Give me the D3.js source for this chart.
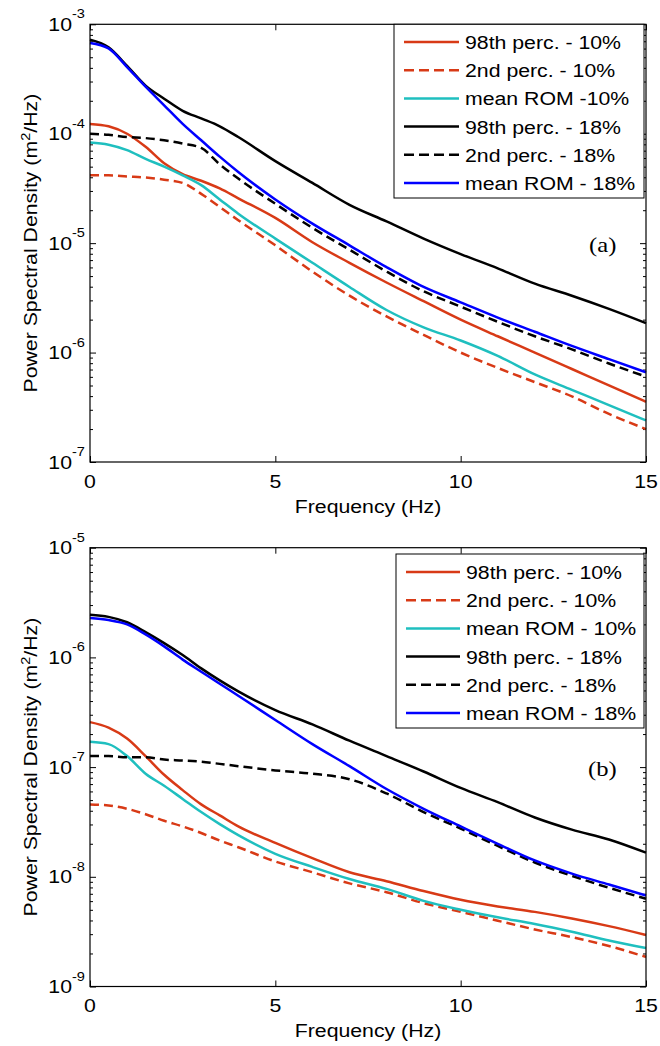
<!DOCTYPE html>
<html>
<head>
<meta charset="utf-8">
<script src="https://cdn.jsdelivr.net/npm/d3@7"></script>
<style>
  body { margin: 0; background: #fff; }
</style>
</head>
<body>
<svg id="fig" width="660" height="1046"></svg>
<script>
// frequency grid (Hz)
var freq = [0, 0.5, 1, 1.5, 2, 2.5, 3, 3.5, 4, 5, 6, 7, 8, 9, 10, 11, 12, 13, 14, 15];
var xTicks = [0, 5, 10, 15];

// panel (a)
var a98_10 = [1.23e-4, 1.17e-4, 1.00e-4, 7.59e-5, 5.37e-5, 4.27e-5, 3.72e-5, 3.16e-5, 2.57e-5, 1.70e-5,
              1.02e-5, 6.61e-6, 4.37e-6, 2.95e-6, 2.00e-6, 1.41e-6, 1.00e-6, 7.08e-7, 5.01e-7, 3.55e-7];
var a02_10 = [4.17e-5, 4.17e-5, 4.07e-5, 3.98e-5, 3.80e-5, 3.55e-5, 2.82e-5, 2.14e-5, 1.62e-5, 9.55e-6,
              5.50e-6, 3.31e-6, 2.14e-6, 1.45e-6, 1.00e-6, 7.24e-7, 5.37e-7, 3.98e-7, 2.75e-7, 2.00e-7];
var aMean_10 = [8.32e-5, 7.94e-5, 7.08e-5, 5.89e-5, 5.01e-5, 4.17e-5, 3.39e-5, 2.51e-5, 1.86e-5, 1.10e-5,
                6.61e-6, 3.98e-6, 2.45e-6, 1.70e-6, 1.29e-6, 9.33e-7, 6.31e-7, 4.57e-7, 3.31e-7, 2.40e-7];
var a98_18 = [7.24e-4, 6.17e-4, 4.17e-4, 2.75e-4, 2.09e-4, 1.62e-4, 1.38e-4, 1.17e-4, 9.33e-5, 5.62e-5,
              3.55e-5, 2.24e-5, 1.58e-5, 1.10e-5, 7.94e-6, 5.89e-6, 4.27e-6, 3.31e-6, 2.51e-6, 1.86e-6];
var a02_18 = [1.00e-4, 9.77e-5, 9.33e-5, 9.12e-5, 8.71e-5, 8.13e-5, 7.41e-5, 5.25e-5, 3.89e-5, 2.29e-5,
              1.38e-5, 8.71e-6, 5.50e-6, 3.63e-6, 2.63e-6, 1.91e-6, 1.41e-6, 1.07e-6, 7.94e-7, 6.03e-7];
var aMean_18 = [6.76e-4, 6.03e-4, 4.07e-4, 2.69e-4, 1.82e-4, 1.23e-4, 8.71e-5, 6.17e-5, 4.47e-5, 2.51e-5,
                1.51e-5, 9.55e-6, 6.03e-6, 3.98e-6, 2.88e-6, 2.09e-6, 1.55e-6, 1.15e-6, 8.71e-7, 6.61e-7];

// panel (b)
var b98_10 = [2.57e-7, 2.29e-7, 1.82e-7, 1.26e-7, 8.51e-8, 6.17e-8, 4.57e-8, 3.63e-8, 2.88e-8, 2.04e-8,
              1.48e-8, 1.10e-8, 9.12e-9, 7.41e-9, 6.17e-9, 5.37e-9, 4.79e-9, 4.17e-9, 3.55e-9, 2.95e-9];
var b02_10 = [4.57e-8, 4.47e-8, 4.17e-8, 3.72e-8, 3.24e-8, 2.88e-8, 2.51e-8, 2.14e-8, 1.86e-8, 1.38e-8,
              1.10e-8, 8.71e-9, 7.24e-9, 5.75e-9, 4.79e-9, 3.98e-9, 3.31e-9, 2.82e-9, 2.34e-9, 1.86e-9];
var bMean_10 = [1.70e-7, 1.62e-7, 1.26e-7, 8.71e-8, 6.76e-8, 5.13e-8, 3.89e-8, 3.02e-8, 2.40e-8, 1.62e-8,
                1.23e-8, 9.55e-9, 7.76e-9, 6.03e-9, 5.01e-9, 4.27e-9, 3.72e-9, 3.16e-9, 2.63e-9, 2.24e-9];
var b98_18 = [2.45e-6, 2.34e-6, 2.09e-6, 1.70e-6, 1.35e-6, 1.05e-6, 7.94e-7, 6.17e-7, 4.90e-7, 3.31e-7,
              2.45e-7, 1.74e-7, 1.26e-7, 9.12e-8, 6.46e-8, 4.79e-8, 3.47e-8, 2.69e-8, 2.19e-8, 1.66e-8];
var b02_18 = [1.26e-7, 1.26e-7, 1.23e-7, 1.23e-7, 1.17e-7, 1.15e-7, 1.12e-7, 1.07e-7, 1.02e-7, 9.33e-8,
              8.71e-8, 7.76e-8, 5.75e-8, 3.89e-8, 2.75e-8, 1.91e-8, 1.35e-8, 1.02e-8, 7.94e-9, 6.31e-9];
var bMean_18 = [2.29e-6, 2.19e-6, 2.00e-6, 1.62e-6, 1.26e-6, 9.55e-7, 7.41e-7, 5.75e-7, 4.47e-7, 2.69e-7,
                1.62e-7, 1.02e-7, 6.31e-8, 4.17e-8, 2.88e-8, 2.00e-8, 1.41e-8, 1.07e-8, 8.51e-9, 6.76e-9];

var legendA = ["98th perc. - 10%", "2nd perc. - 10%", "mean ROM -10%",
               "98th perc. - 18%", "2nd perc. - 18%", "mean ROM - 18%"];
var legendB = ["98th perc. - 10%", "2nd perc. - 10%", "mean ROM - 10%",
               "98th perc. - 18%", "2nd perc. - 18%", "mean ROM - 18%"];

// styles per series (same order in both panels)
var RED = "#d83a16", CYAN = "#1fbfbf", BLUE = "#0000ff", BLACK = "#000";
var styles = [
  {color: RED, dash: null},
  {color: RED, dash: "9,5"},
  {color: CYAN, dash: null},
  {color: BLACK, dash: null},
  {color: BLACK, dash: "9,5"},
  {color: BLUE, dash: null}
];

var SANS = "'Liberation Sans', Arial, Helvetica, sans-serif";
var SERIF = "'Liberation Serif', 'Times New Roman', serif";
var SX = 1.12; // the original lettering is a bit wider than Arial

var svg = d3.select("#fig");
var left = 90, right = 646;

var panels = [
  {top: 24.3, bottom: 462, domain: [1e-7, 1e-3],
   series: [a98_10, a02_10, aMean_10, a98_18, a02_18, aMean_18], names: legendA,
   box: [394, 24.3, 644, 198], row0: 42, lineX: [404, 459], textX: 465,
   tag: "(a)", tagX: 589, tagY: 252},
  {top: 547.7, bottom: 986.5, domain: [1e-9, 1e-5],
   series: [b98_10, b02_10, bMean_10, b98_18, b02_18, bMean_18], names: legendB,
   box: [396, 554, 644, 728], row0: 572, lineX: [406, 460], textX: 466,
   tag: "(b)", tagX: 588, tagY: 776}
];

function txt(g, x, y, s, size, anchor, family) {
  return g.append("text")
    .attr("transform", "translate(" + x + "," + y + ") scale(" + SX + ",1)")
    .attr("text-anchor", anchor || "start")
    .attr("font-size", size)
    .attr("font-family", family || SANS)
    .attr("fill", "#000")
    .text(s);
}

function tickAxis(g, axis, vals, size) {
  g.call(axis.tickValues(vals).tickSize(size).tickSizeOuter(0).tickFormat(""));
  g.select(".domain").remove();
  g.selectAll("line").attr("stroke", "#000").attr("stroke-width", 1);
}

panels.forEach(function(p) {
  var x = d3.scaleLinear().domain([0, 15]).range([left, right]);
  var y = d3.scaleLog().domain(p.domain).range([p.bottom, p.top]);
  var g = svg.append("g");

  var all = y.ticks();
  var isDecade = function(v) { var l = Math.log10(v); return Math.abs(l - Math.round(l)) < 1e-6; };
  var major = all.filter(isDecade);
  var minor = all.filter(function(v) { return !isDecade(v); });

  // ticks pointing inward on all four sides
  tickAxis(g.append("g").attr("transform", "translate(" + left + ",0)"), d3.axisLeft(y), minor, -3);
  tickAxis(g.append("g").attr("transform", "translate(" + left + ",0)"), d3.axisLeft(y), major, -6);
  tickAxis(g.append("g").attr("transform", "translate(" + right + ",0)"), d3.axisRight(y), minor, -3);
  tickAxis(g.append("g").attr("transform", "translate(" + right + ",0)"), d3.axisRight(y), major, -6);
  tickAxis(g.append("g").attr("transform", "translate(0," + p.bottom + ")"), d3.axisBottom(x), xTicks, -6);
  tickAxis(g.append("g").attr("transform", "translate(0," + p.top + ")"), d3.axisTop(x), xTicks, -6);

  // curves
  var line = d3.line()
    .x(function(d, i) { return x(freq[i]); })
    .y(function(d) { return y(d); })
    .curve(d3.curveMonotoneX);

  p.series.forEach(function(s, i) {
    g.append("path")
      .datum(s)
      .attr("d", line)
      .attr("fill", "none")
      .attr("stroke", styles[i].color)
      .attr("stroke-width", 2.5)
      .attr("stroke-dasharray", styles[i].dash);
  });

  // frame
  g.append("rect")
    .attr("x", left).attr("y", p.top)
    .attr("width", right - left).attr("height", p.bottom - p.top)
    .attr("fill", "none").attr("stroke", "#000").attr("stroke-width", 1.2);

  // y tick labels: 10 with superscript exponent
  major.forEach(function(v) {
    var yy = y(v);
    txt(g, 72, yy + 6.5, "10", 19, "end");
    txt(g, 72, yy - 6, String(Math.round(Math.log10(v))), 13, "start");
  });

  // x tick labels
  xTicks.forEach(function(t) {
    txt(g, x(t), p.bottom + 25.5, String(t), 19, "middle");
  });

  txt(g, (left + right) / 2, p.bottom + 50.5, "Frequency (Hz)", 19, "middle");

  // y label
  var yl = g.append("text")
    .attr("transform", "translate(37," + ((p.top + p.bottom) / 2) + ") rotate(-90) scale(" + SX + ",1)")
    .attr("text-anchor", "middle")
    .attr("font-size", 19)
    .attr("font-family", SANS);
  yl.append("tspan").text("Power Spectral Density (m");
  yl.append("tspan").attr("font-size", 13).attr("dy", -7).text("2");
  yl.append("tspan").attr("dy", 7).text("/Hz)");

  // legend
  var b = p.box;
  g.append("rect")
    .attr("x", b[0]).attr("y", b[1])
    .attr("width", b[2] - b[0]).attr("height", b[3] - b[1])
    .attr("fill", "#fff").attr("stroke", "#000").attr("stroke-width", 1);

  p.names.forEach(function(n, i) {
    var ry = p.row0 + i * 28.2;
    g.append("line")
      .attr("x1", p.lineX[0]).attr("x2", p.lineX[1])
      .attr("y1", ry).attr("y2", ry)
      .attr("stroke", styles[i].color)
      .attr("stroke-width", 2.5)
      .attr("stroke-dasharray", styles[i].dash ? "10,5" : null);
    txt(g, p.textX, ry + 7, n, 19, "start");
  });

  txt(g, p.tagX, p.tagY, p.tag, 22, "start", SERIF);
});
</script>
</body>
</html>
